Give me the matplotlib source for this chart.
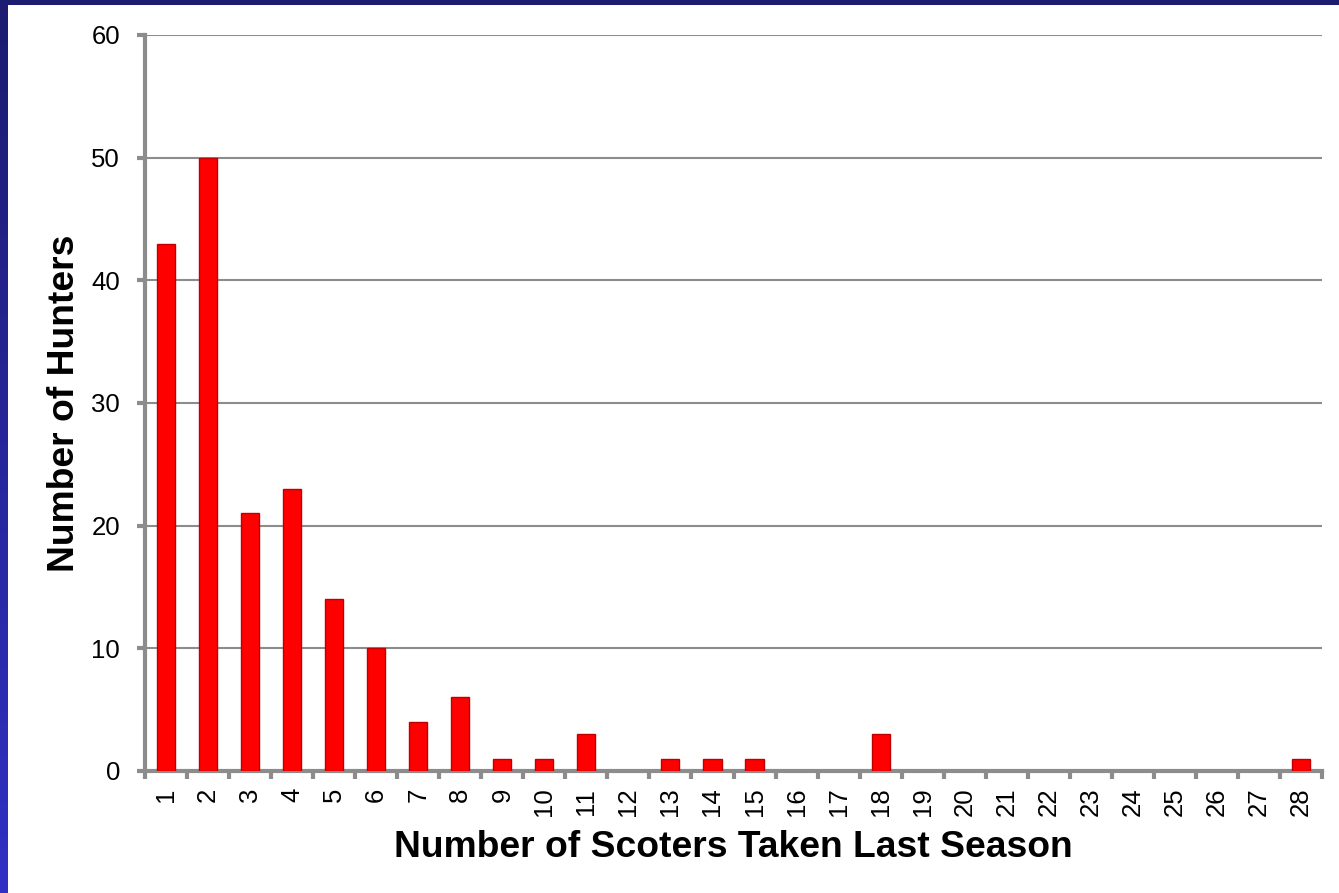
import numpy as np
import matplotlib.pyplot as plt
from matplotlib.patches import Rectangle

plt.rcParams['font.family'] = ['Liberation Sans', 'DejaVu Sans']

# --- Data ---
scoters = list(range(1, 29))
hunters = [43, 50, 21, 23, 14, 10, 4, 6, 1, 1, 3, 0, 1, 1, 1, 0, 0, 3,
           0, 0, 0, 0, 0, 0, 0, 0, 0, 1]
y_ticks = [0, 10, 20, 30, 40, 50, 60]

grey = '#8c8c8c'

fig = plt.figure(figsize=(13.39, 8.93), dpi=100)
fig.patch.set_facecolor('white')

# slide frame: navy strip on top, blue gradient strip on the left
bg = fig.add_axes([0, 0, 1, 1], zorder=-10)
bg.set_axis_off()
bg.add_patch(Rectangle((0, 0), 1339, 5, color='#1c1c70', lw=0))
grad = np.linspace(0, 1, 256)[:, None]
top_c = np.array([0x1c, 0x1c, 0x70]) / 255
bot_c = np.array([0x30, 0x30, 0xc4]) / 255
img = top_c[None, None, :] * (1 - grad[:, :, None]) + bot_c[None, None, :] * grad[:, :, None]
bg.imshow(img, extent=[0, 8, 893, 0], aspect='auto')
bg.set_xlim(0, 1339)
bg.set_ylim(893, 0)

ax = fig.add_axes([145 / 1339, 1 - 771 / 893, (1322 - 145) / 1339, (771 - 35) / 893])
edges = ['#c00000' if h > 0 else 'none' for h in hunters]
ax.bar(scoters, hunters, width=0.43, color='#ff0000', edgecolor=edges,
       linewidth=1, zorder=3)

ax.set_xlim(0.5, 28.5)
ax.set_ylim(0, 60)
ax.set_yticks(y_ticks)
ax.set_xticks(scoters)
ax.set_xticks(np.arange(0.5, 29, 1), minor=True)
ax.tick_params(axis='x', which='major', length=0, pad=12, labelsize=18.5,
               labelrotation=90)
ax.tick_params(axis='x', which='minor', length=6, width=3, color=grey,
               direction='out')
ax.tick_params(axis='y', length=6, width=3, color=grey, direction='out',
               labelsize=18.5, pad=12)

ax.grid(axis='y', color=grey, linewidth=1.5, zorder=0)
for side in ['top', 'right']:
    ax.spines[side].set_visible(False)
for side in ['left', 'bottom']:
    ax.spines[side].set_color(grey)
    ax.spines[side].set_linewidth(3)

ax.set_xlabel('Number of Scoters Taken Last Season', fontsize=26.8,
              fontweight='bold', labelpad=10)
ax.set_ylabel('Number of Hunters', fontsize=26.8, fontweight='bold', labelpad=7)

fig.savefig('out.png', dpi=100)
